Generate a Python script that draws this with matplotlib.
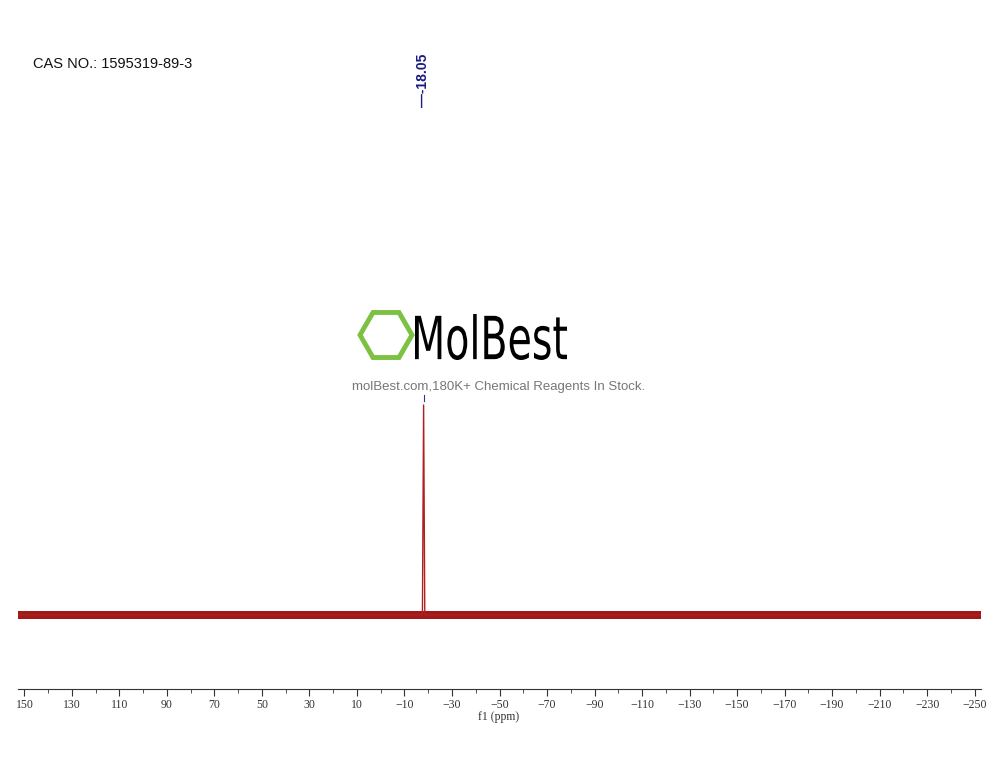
import matplotlib
matplotlib.use("Agg")
import matplotlib.pyplot as plt
from matplotlib.patches import Polygon, PathPatch
from matplotlib.textpath import TextPath
from matplotlib.font_manager import FontProperties
from matplotlib.transforms import Affine2D, IdentityTransform
import numpy as np

peak_ppm = [152.7, -17.55, -18.05, -18.55, -252.7]
peak_int = [0.0, 0.0, 1.0, 0.0, 0.0]
peak_label = "-18.05"
major_ticks = list(range(150, -251, -20))
minor_ticks = list(range(150, -251, -10))

W, H = 1000, 773
fig = plt.figure(figsize=(W/100, H/100), dpi=100)
ax = fig.add_axes([18/W, 1-689/H, (981-18)/W, 689/H])
ax.set_xlim(152.7, -252.7)
ax.set_ylim(-74/210, 689/210 - 74/210)
for s in ["top", "left", "right"]:
    ax.spines[s].set_visible(False)
ax.spines["bottom"].set_color("#333333")
ax.set_yticks([])
ax.set_xticks(major_ticks)
ax.set_xticks(minor_ticks, minor=True)
ax.set_xticklabels([str(t).replace("-", "\u2212") for t in major_ticks],
                   fontfamily="Liberation Serif", fontsize=8.5, color="#333333")
ax.tick_params(axis="x", which="major", direction="out", length=5, color="#333333", pad=2)
ax.tick_params(axis="x", which="minor", direction="out", length=3, color="#333333")
fig.text(499/W, 1-717/H, "f1 (ppm)", fontfamily="Liberation Serif", fontsize=8.5,
         color="#333333", ha="center", va="center")

# baseline noise band
ax.fill_between([peak_ppm[0], peak_ppm[-1]], -0.017, 0.017, color="#a01818", lw=0)
ax.plot(peak_ppm, peak_int, color="#b02020", lw=1.0)

# peak label
fig.text(423/W, 1-80/H, "\u2014" + peak_label, rotation=90, ha="center", va="center",
         fontsize=10, fontweight="bold", color="#1a1a80", fontfamily="Liberation Sans")
ax.plot([-18.05, -18.05], [1.02, 1.05], color="#3030a0", lw=0.8)

fig.text(33/W, 1-64/H, "CAS NO.: 1595319-89-3", fontsize=10.5, va="center",
         fontfamily="Liberation Sans", color="#111111")

# logo
cx, cy, r = 386/W, 1-335/H, 26
pts = [(cx + r*np.cos(np.deg2rad(a))/W, cy + r*np.sin(np.deg2rad(a))/H) for a in range(0, 360, 60)]
fig.patches.append(Polygon(pts, closed=True, fill=False, ec="#7dc142", lw=3.5, transform=fig.transFigure))
tp = TextPath((0, 0), "MolBest", size=60, prop=FontProperties(family="DejaVu Sans"))
bb = tp.get_extents()
sx = 152 / bb.width
sy = 46 / bb.height
tr = Affine2D().translate(-bb.x0, -bb.y0).scale(sx, sy).translate(415, H-360)
fig.patches.append(PathPatch(tp, fc="black", ec="none", transform=tr + IdentityTransform()))
fig.text(499/W, 1-387/H, "molBest.com,180K+ Chemical Reagents In Stock.", fontsize=9.5,
         ha="center", va="center", color="#777777", fontfamily="Liberation Sans")

fig.savefig("out.png", dpi=100)
